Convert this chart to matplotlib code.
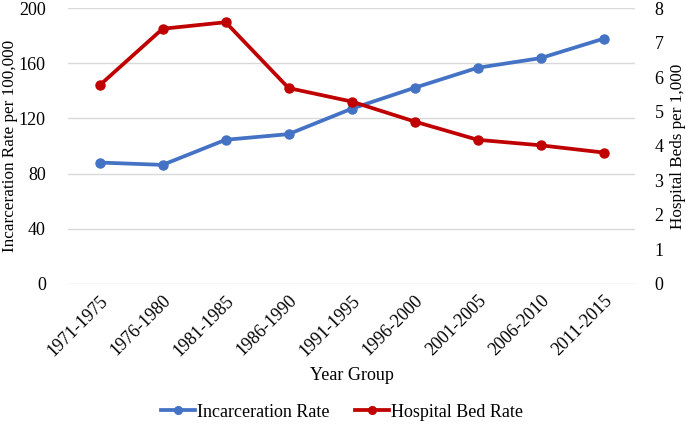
import matplotlib
matplotlib.use("Agg")
import matplotlib.pyplot as plt
import numpy as np

# values
year_groups = ["1971-1975", "1976-1980", "1981-1985", "1986-1990", "1991-1995",
               "1996-2000", "2001-2005", "2006-2010", "2011-2015"]
incarceration_rate = [88.0, 86.3, 104.5, 108.6, 127.0, 142.2, 156.7, 163.7, 177.8]
hospital_bed_rate = [5.76, 7.40, 7.59, 5.68, 5.29, 4.71, 4.18, 4.02, 3.81]

left_ticks = [0, 40, 80, 120, 160, 200]
right_ticks = [0, 1, 2, 3, 4, 5, 6, 7, 8]

plt.rcParams['font.family'] = ['Liberation Serif', 'DejaVu Serif']
plt.rcParams['font.size'] = 13

BLUE = "#4472C4"
RED = "#C00000"

fig = plt.figure(figsize=(6.88, 4.25), dpi=100)
ax1 = fig.add_axes([0.099, 0.332, 0.824, 0.649])
ax2 = ax1.twinx()

x = np.arange(len(year_groups))

ax1.plot(x, incarceration_rate, color=BLUE, linewidth=2.7, marker='o',
         markersize=6.5, label="Incarceration Rate", zorder=3)
ax2.plot(x, hospital_bed_rate, color=RED, linewidth=2.7, marker='o',
         markersize=6.5, label="Hospital Bed Rate", zorder=3)

ax1.set_xlim(-0.5, len(year_groups) - 0.5)
ax1.set_ylim(0, 200)
ax2.set_ylim(0, 8)
ax1.set_yticks(left_ticks)
ax2.set_yticks(right_ticks)

ax1.set_xticks(x)
ax1.set_xticklabels(year_groups, rotation=45, ha='right', rotation_mode='anchor')

ax1.grid(True, axis='y', color='#D9D9D9', linewidth=1)
ax1.set_axisbelow(True)

for ax in (ax1, ax2):
    for s in ax.spines.values():
        s.set_visible(False)
    ax.tick_params(length=0, colors='#000000', labelsize=13)

ax1.tick_params(axis='y', pad=16)
ax2.tick_params(axis='y', pad=14)
ax1.tick_params(axis='x', pad=6)

# y labels centred on fixed x positions so they stay inside the figure
ax1.set_ylabel("Incarceration Rate per 100,000", fontsize=12.3, va='center')
ax1.yaxis.set_label_coords(-0.103, 0.5)
ax2.set_ylabel("Hospital Beds per 1,000", fontsize=12.3, va='center')
ax2.yaxis.set_label_coords(1.076, 0.5)
ax1.set_xlabel("Year Group", fontsize=13, labelpad=5)

h1, l1 = ax1.get_legend_handles_labels()
h2, l2 = ax2.get_legend_handles_labels()
fig.legend(h1 + h2, l1 + l2, loc='center', bbox_to_anchor=(0.497, 0.03),
           ncol=2, frameon=False, fontsize=13, handlelength=1.9,
           handletextpad=0.1, columnspacing=1.4, markerscale=0.85)

fig.savefig("out.png", dpi=100)
